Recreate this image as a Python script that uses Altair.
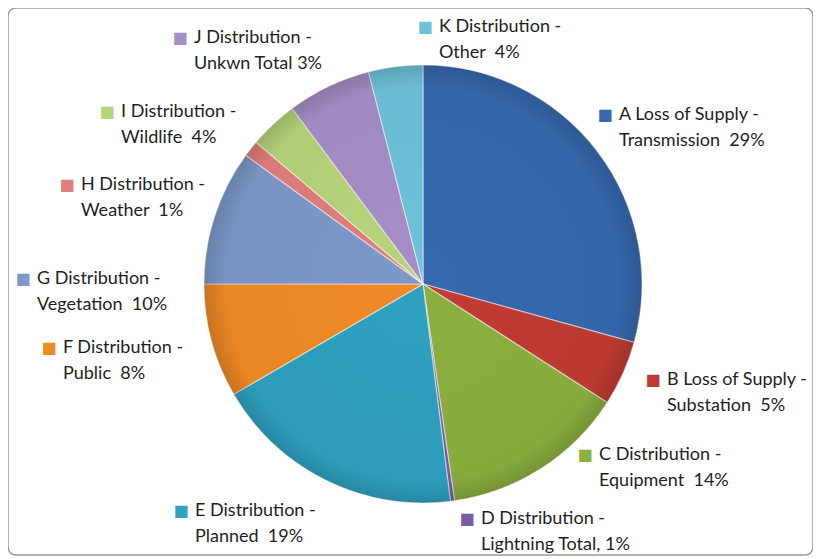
import math
import altair as alt
import pandas as pd

# ---- data ----
keys = ["A", "B", "C", "D", "E", "F", "G", "H", "I", "J", "K"]
line1 = [
    "A Loss of Supply -", "B Loss of Supply -", "C Distribution -", "D Distribution -",
    "E Distribution -", "F Distribution -", "G Distribution -", "H Distribution -",
    "I Distribution -", "J Distribution -", "K Distribution -",
]
line2 = [
    "Transmission\u00a0 29%", "Substation\u00a0 5%", "Equipment\u00a0 14%", "Lightning Total, 1%",
    "Planned\u00a0 19%", "Public\u00a0 8%", "Vegetation\u00a0 10%", "Weather\u00a0 1%",
    "Wildlife\u00a0 4%", "Unkwn Total 3%", "Other\u00a0 4%",
]
values = [29.3, 4.8, 13.6, 0.3, 18.6, 8.4, 10.0, 1.2, 3.6, 6.2, 4.0]
colors = ["#3669AF", "#C13B33", "#8BB03F", "#7A5BA5", "#2FA1C1", "#F08A25",
          "#7D99C9", "#E07E7C", "#B6D47A", "#A68EC6", "#6EC2D9"]

# ---- layout (styling, not data) ----
W, H = 805, 547
CX, CY = 415, 276          # pie centre in view coordinates
R_PIE = 219
R_LAB = 250
FONT = "Lato"
FS = 18
# where each label block's text starts (left x, first baseline), view coords
label_at = {
    "A": (611, 112), "B": (659, 377), "C": (591, 452), "D": (473, 516),
    "E": (187, 508), "F": (55, 345), "G": (29, 276), "H": (73, 182),
    "I": (113, 109), "J": (186, 35), "K": (431, 24),
}

df = pd.DataFrame({"key": keys, "line1": line1, "line2": line2, "value": values})
df["end"] = df["value"].cumsum()
df["start"] = df["end"] - df["value"]
df["mid"] = (df["start"] + df["end"]) / 2
df["label"] = df["line1"] + "\n" + df["line2"]
total = float(df["value"].sum())

theta_scale = alt.Scale(domain=[0, total], range=[0, 2 * math.pi])
color_scale = alt.Scale(domain=keys, range=colors)

base = alt.Chart(df)

pie = base.mark_arc(outerRadius=R_PIE, stroke="#ffffff", strokeOpacity=0.5,
                    strokeWidth=1.2).encode(
    theta=alt.Theta("start:Q", scale=theta_scale, stack=None),
    theta2="end:Q",
    color=alt.Color("key:N", scale=color_scale, legend=None),
    x=alt.value(CX), y=alt.value(CY),
)

shade = base.transform_aggregate(tot="sum(value)").transform_calculate(
    zero="0"
).mark_arc(
    outerRadius=R_PIE,
    fill={
        "gradient": "radial", "x1": 0.5, "y1": 0.5, "r1": 0,
        "x2": 0.5, "y2": 0.5, "r2": 0.5,
        "stops": [
            {"offset": 0.0, "color": "rgba(0,0,0,0)"},
            {"offset": 0.9, "color": "rgba(0,0,0,0.03)"},
            {"offset": 1.0, "color": "rgba(0,0,0,0.16)"},
        ],
    },
).encode(
    theta=alt.Theta("zero:Q", scale=theta_scale, stack=None),
    theta2="tot:Q",
    x=alt.value(CX), y=alt.value(CY),
)

layers = [pie, shade]
for k, mid in zip(df["key"], df["mid"]):
    ang = mid / total * 2 * math.pi
    ax = CX + R_LAB * math.sin(ang)
    ay = CY - R_LAB * math.cos(ang)
    tx, ty = label_at[k]
    dx, dy = tx - ax, ty - ay
    sel = base.transform_filter(alt.datum.key == k)
    txt = sel.mark_text(radius=R_LAB, align="left", baseline="alphabetic",
                        font=FONT, fontSize=FS, lineBreak="\n", lineHeight=25.5,
                        color="#1e1e1e", dx=dx, dy=dy).encode(
        theta=alt.Theta("mid:Q", scale=theta_scale, stack=None),
        text="label:N",
        x=alt.value(CX), y=alt.value(CY),
    )
    sq = sel.mark_text(radius=R_LAB, align="left", baseline="alphabetic",
                       font="DejaVu Sans", fontSize=16, text="\u25a0",
                       dx=dx - 21.5, dy=dy - 0.5).encode(
        theta=alt.Theta("mid:Q", scale=theta_scale, stack=None),
        color=alt.Color("key:N", scale=color_scale, legend=None),
        x=alt.value(CX), y=alt.value(CY),
    )
    layers += [sq, txt]

chart = alt.layer(*layers).properties(
    width=W, height=H, autosize="none", background="white",
    padding={"left": 0, "top": 0, "right": 0, "bottom": 4},
).configure_view(stroke="#9a9a9a", strokeWidth=1.5, cornerRadius=8)

chart.save("out.html", embed_options={"renderer": "svg", "actions": False})
